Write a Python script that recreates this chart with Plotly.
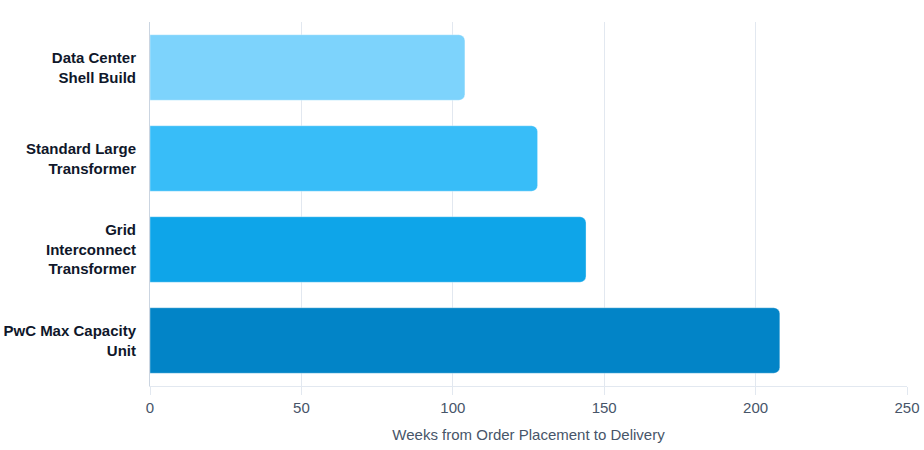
import plotly.graph_objects as go

categories = ["Data Center<br>Shell Build", "Standard Large<br>Transformer",
              "Grid<br>Interconnect<br>Transformer", "PwC Max Capacity<br>Unit"]
weeks = [104, 128, 144, 208]
colors = ["#7dd3fc", "#38bdf8", "#0ea5e9", "#0284c7"]

fig = go.Figure(go.Bar(
    x=weeks, y=categories, orientation="h",
    marker=dict(color=colors, cornerradius=6,
                line=dict(color="rgba(255,255,255,0.35)", width=1)),
    width=0.72, hoverinfo="x+y",
))

fig.update_layout(
    width=924, height=450,
    margin=dict(l=150, r=17, t=22, b=64, autoexpand=False),
    paper_bgcolor="white", plot_bgcolor="white",
    font=dict(family="Liberation Sans, Arial, sans-serif", color="#475569"),
    showlegend=False,
    xaxis=dict(
        range=[0, 250], tickvals=[0, 50, 100, 150, 200, 250],
        showgrid=True, gridcolor="#e2e8f0", gridwidth=1,
        zeroline=False, showline=True, linecolor="#e2e8f0", linewidth=1,
        ticks="outside", ticklen=8, tickcolor="#e2e8f0",
        tickfont=dict(size=15, color="#475569"),
        title=dict(text="Weeks from Order Placement to Delivery",
                   font=dict(size=15, color="#475569"), standoff=14),
        automargin=False,
    ),
    yaxis=dict(
        autorange="reversed", showgrid=False, zeroline=False,
        showline=True, linecolor="#cbd5e1", linewidth=1,
        ticks="", ticklabelstandoff=10,
        tickfont=dict(size=15, color="#0f172a", weight="bold"),
        automargin=False,
    ),
)

fig.write_html(
    "out.html",
    config={"displayModeBar": False},
    post_script="document.body.style.margin='0';document.body.style.overflow='hidden';",
)
